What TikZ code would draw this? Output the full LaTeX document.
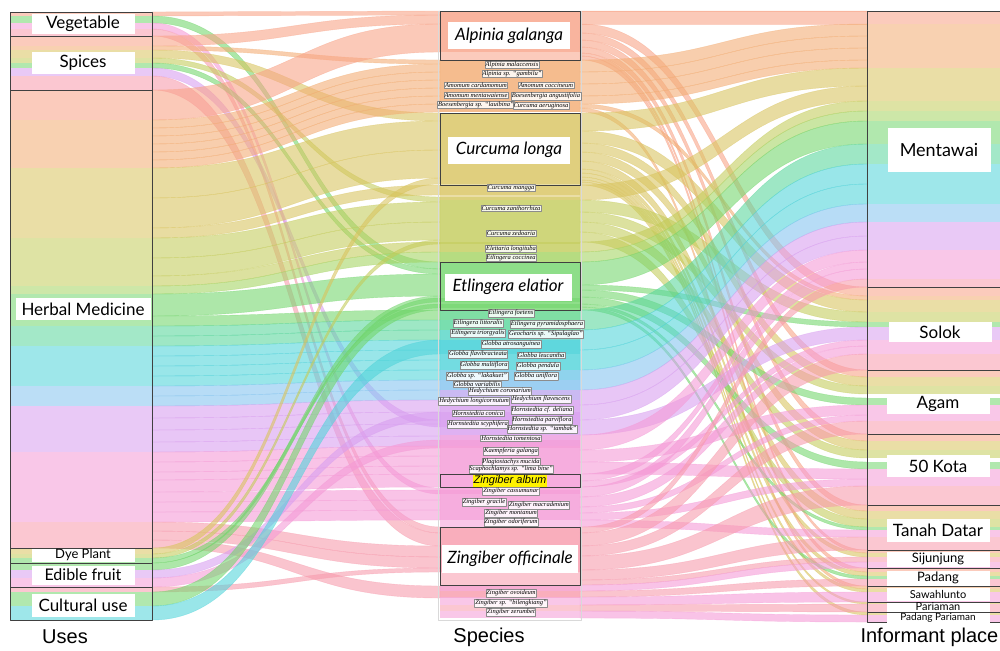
\documentclass[tikz,border=0pt]{standalone}
\usepackage{fontspec}
\newfontfamily\gillf{Lato}
\newfontfamily\arialf{Liberation Sans}
\newfontfamily\timesf{Liberation Serif}
\definecolor{cA}{HTML}{F9A286}
\definecolor{cB}{HTML}{F3AC72}
\definecolor{cC}{HTML}{D9C45E}
\definecolor{cD}{HTML}{C4CC5A}
\definecolor{cDD}{HTML}{A4D462}
\definecolor{cE}{HTML}{72D66C}
\definecolor{cEE}{HTML}{58D69C}
\definecolor{cF}{HTML}{50D4DA}
\definecolor{cFF}{HTML}{84C4F0}
\definecolor{cG}{HTML}{D89EF0}
\definecolor{cH}{HTML}{F599D6}
\definecolor{cI}{HTML}{F89AAC}
\begin{document}
\begin{tikzpicture}[x=1pt,y=-1pt,line join=round,
	ribbon/.style={fill opacity=.58,draw=white,draw opacity=.5,line width=.4pt},
	band/.style={fill opacity=.55},
	frame/.style={draw=black!75,line width=.7pt},
	uselbl/.style={fill=white,inner sep=0pt,minimum width=103pt,minimum height=20pt,font=\gillf\fontsize{17}{17}\selectfont},
	placelbl/.style={fill=white,inner sep=0pt,minimum width=103pt,minimum height=20pt,font=\gillf\fontsize{17}{17}\selectfont},
	spbig/.style={fill=white,inner sep=0pt,minimum width=122pt,minimum height=27pt,font=\gillf\itshape\fontsize{17}{17}\selectfont},
	sp/.style={draw=black!45,fill=white,fill opacity=.85,text opacity=1,inner sep=.7pt,line width=.3pt,font=\timesf\itshape\fontsize{6.5}{6.5}\selectfont},
	axlbl/.style={font=\arialf\fontsize{20}{20}\selectfont}]
	\clip (0,0) rectangle (1000,650);
	\fill[white] (0,0) rectangle (1000,650);
	% uses -> species
	\foreach \ya/\yb/\yc/\yd/\cl in {
		12/16/11/15/cA, 16/23/262/269/cE, 23/29/488/494/cH, 29/36/527/533/cI,
		36/46/15/24/cA, 46/50/60/64/cB, 50/58/113/121/cC, 58/63/197/202/cD,
		63/68/269/274/cE, 68/76/420/427/cG, 76/90/533/546/cI,
		90/120/24/52/cA, 120/128/64/72/cB, 128/136/72/80/cB, 136/144/80/88/cB,
		144/152/88/96/cB, 152/160/96/104/cB, 160/168/104/112/cB,
		168/198/121/150/cC, 198/228/150/178/cC, 228/238/185/195/cC,
		238/258/202/222/cD, 258/276/222/240/cD, 276/286/242/252/cD,
		286/294/252/262/cDD, 294/316/274/296/cE,
		316/326/310/320/cE, 326/336/320/330/cEE, 336/346/330/340/cEE,
		346/356/340/350/cF, 356/366/350/360/cF, 366/376/360/370/cF,
		376/386/370/380/cF, 386/396/380/390/cFF, 396/406/390/400/cFF,
		406/418/400/412/cG, 418/430/412/424/cG, 430/442/424/436/cG,
		442/452/436/446/cG, 452/462/446/456/cH, 462/472/456/466/cH,
		472/480/466/474/cH, 480/492/474/487/cH, 492/502/490/500/cH,
		502/512/500/510/cH, 512/522/510/520/cH, 522/531/546/557/cI,
		531/540/557/568/cI, 540/548/586/598/cI,
		548/554/178/184/cC, 554/558/240/244/cD, 558/563/304/308/cE,
		563/570/296/302/cE, 570/578/412/420/cG, 578/587/440/448/cH,
		587/592/568/572/cI, 592/606/298/310/cE, 606/620/340/354/cF}{
		\fill[ribbon,\cl] (152,\ya) .. controls (296,\ya) and (296,\yc) .. (440,\yc)
			-- (440,\yd) .. controls (296,\yd) and (296,\yb) .. (152,\yb) -- cycle;
		\fill[band,\cl] (10,\ya) rectangle (152,\yb);
		\fill[band,\cl] (440,\yc) rectangle (580,\yd);
	}
	% species -> informant places
	\foreach \ya/\yb/\yc/\yd/\cl in {
		11/24/11/24/cA, 24/33/287/296/cA, 33/40/370/377/cA, 40/47/434/441/cA,
		47/53/505/511/cA, 53/56/550/553/cA, 56/60/568/572/cA,
		60/72/24/36/cB, 72/84/36/48/cB, 84/96/48/60/cB, 96/104/60/68/cB,
		104/108/296/300/cB, 108/112/586/589/cB,
		113/131/68/86/cC, 131/143/300/312/cC, 143/152/377/386/cC,
		152/161/441/450/cC, 161/169/511/519/cC, 169/173/553/557/cC,
		173/177/572/576/cC, 177/180/589/592/cC, 180/182/602/604/cC, 182/185/612/615/cC,
		185/200/86/101/cC, 200/212/312/322/cD, 212/222/386/394/cD,
		222/232/450/458/cD, 232/242/519/527/cD, 242/252/101/111/cD, 252/262/111/121/cDD,
		262/285/121/144/cE, 285/290/322/327/cE, 290/297/398/405/cE,
		297/304/462/469/cE, 304/307/527/530/cE, 307/310/576/579/cE,
		310/330/144/164/cEE, 330/350/164/184/cF, 350/370/184/204/cF,
		370/390/204/222/cFF, 390/405/222/236/cG, 405/420/236/250/cG,
		420/435/327/340/cG, 435/450/250/262/cH, 450/462/405/415/cH, 462/474/469/479/cH,
		474/481/262/269/cH, 481/487/340/346/cH,
		487/497/269/279/cH, 497/507/346/354/cH, 507/513/415/421/cH,
		513/520/479/486/cH, 520/527/530/537/cH,
		527/533/279/287/cI, 533/546/354/370/cI, 546/556/421/434/cI,
		556/570/486/505/cI, 570/580/537/550/cI, 580/585/557/562/cI,
		585/591/562/568/cH, 591/597/579/586/cI, 597/605/592/602/cH,
		605/611/604/612/cI, 611/618/615/622/cH}{
		\fill[ribbon,\cl] (580,\ya) .. controls (724,\ya) and (724,\yc) .. (867,\yc)
			-- (867,\yd) .. controls (724,\yd) and (724,\yb) .. (580,\yb) -- cycle;
		\fill[band,\cl] (440,\ya) rectangle (580,\yb);
		\fill[band,\cl] (867,\yc) rectangle (1000,\yd);
	}
	% frames
	\draw[frame] (10,12) rectangle (152,620);
	\foreach \y in {36,90,548,563,587}
		\draw[frame] (10,\y) -- (152,\y);
	\draw[black!15] (438,11) rectangle (581,620);
	\foreach \ya/\yb in {11/60,113/185,262/310,474/487,527/585}
		\draw[frame] (440,\ya) rectangle (580,\yb);
	\draw[frame] (867,11) -- (867,622) -- (1000,622);
	\foreach \y in {11,287,370,434,505,550,568,586,602,612}
		\draw[frame] (867,\y) -- (1000,\y);
	% uses
	\node[uselbl] (veg) at (83,24) {Vegetable};
	\node[uselbl,minimum height=22pt] (spi) at (83,63) {Spices};
	\node[uselbl,minimum width=135pt,minimum height=22pt] (herb) at (83,309) {Herbal Medicine};
	\node[uselbl,minimum height=13pt,font=\gillf\fontsize{13}{13}\selectfont] (dye) at (83,555) {Dye Plant};
	\node[uselbl,minimum height=19pt,font=\gillf\fontsize{16}{16}\selectfont] (edi) at (83,575) {Edible fruit};
	\node[uselbl,minimum height=23pt] (cul) at (83,605) {Cultural use};
	% species
	\node[spbig] (alpg) at (509,36) {Alpinia galanga};
	\node[spbig] (curl) at (509,150) {Curcuma longa};
	\node[spbig,minimum width=127pt] (etle) at (508,287) {Etlingera elatior};
	\node[spbig,minimum width=136pt,minimum height=28pt] (zino) at (510,559) {Zingiber officinale};
	\node[fill=yellow,inner sep=.5pt,font=\arialf\itshape\fontsize{11}{11}\selectfont] (zinalb) at (510,481) {Zingiber album};
	\node[sp] (alpm) at (512,65) {Alpinia malaccensis};
	\node[sp] (alps) at (512,74) {Alpinia sp. “gambilu”};
	\node[sp] (amoc) at (476,85) {Amomum cardamomum};
	\node[sp] (amoi) at (546,85) {Amomum coccineum};
	\node[sp] (amom) at (476,95) {Amomum mentawaiense};
	\node[sp] (boea) at (546,96) {Boesenbergia angustifolia};
	\node[sp] (boes) at (476,105) {Boesenbergia sp. “lauibina”};
	\node[sp] (cura) at (541,106) {Curcuma aeruginosa};
	\node[sp] (curm) at (511,188) {Curcuma mangga};
	\node[sp] (curx) at (511,208) {Curcuma zanthorrhiza};
	\node[sp] (curz) at (511,233) {Curcuma zedoaria};
	\node[sp] (elel) at (511,249) {Elettaria longituba};
	\node[sp] (etlc) at (511,258) {Etlingera coccinea};
	\node[sp] (etlf) at (511,313) {Etlingera foetens};
	\node[sp] (etll) at (478,323) {Etlingera littoralis};
	\node[sp] (etlp) at (547,324) {Etlingera pyramidosphaera};
	\node[sp] (etlt) at (478,333) {Etlingera triorgyalis};
	\node[sp] (geos) at (546,334) {Geocharis sp. “Sipulaglao”};
	\node[sp] (glba) at (511,344) {Globba atrosanguinea};
	\node[sp] (glbf) at (478,354) {Globba flavibracteata};
	\node[sp] (glbl) at (541,355) {Globba leucantha};
	\node[sp] (glbm) at (484,365) {Globba multiflora};
	\node[sp] (glbp) at (538,366) {Globba pendula};
	\node[sp] (glbs) at (477,376) {Globba sp. “lakakuet”};
	\node[sp] (glbu) at (536,376) {Globba uniflora};
	\node[sp] (glbv) at (477,384) {Globba variabilis};
	\node[sp] (hedc) at (500,391) {Hedychium coronarium};
	\node[sp] (hedl) at (474,401) {Hedychium longicornutum};
	\node[sp] (hedf) at (541,399) {Hedychium flavescens};
	\node[sp] (horc) at (478,413) {Hornstedtia conica};
	\node[sp] (hord) at (542,410) {Hornstedtia cf. deliana};
	\node[sp] (hors) at (478,424) {Hornstedtia scyphifera};
	\node[sp] (horp) at (542,420) {Hornstedtia parviflora};
	\node[sp] (hort) at (542,429) {Hornstedtia sp. “tambak”};
	\node[sp] (horm) at (511,438) {Hornstedtia tomentosa};
	\node[sp] (kaeg) at (511,451) {Kaempferia galanga};
	\node[sp] (plam) at (511,462) {Plagiostachys mucida};
	\node[sp] (scas) at (511,469) {Scaphochlamys sp. “lima bine”};
	\node[sp] (zinc) at (511,491) {Zingiber cassumunar};
	\node[sp] (zing) at (484,502) {Zingiber gracile};
	\node[sp] (zinm) at (539,505) {Zingiber macradenium};
	\node[sp] (zint) at (511,513) {Zingiber montanum};
	\node[sp] (zind) at (511,522) {Zingiber odoriferum};
	\node[sp] (zinv) at (511,593) {Zingiber ovoideum};
	\node[sp] (zins) at (511,603) {Zingiber sp. “bilengkiang”};
	\node[sp] (zinz) at (511,612) {Zingiber zerumbet};
	% informant places
	\node[placelbl,minimum height=44pt,font=\gillf\fontsize{18}{18}\selectfont] (ment) at (939,150) {Mentawai};
	\node[placelbl] (sol) at (940,332) {Solok};
	\node[placelbl] (agam) at (938,404) {Agam};
	\node[placelbl,minimum height=22pt] (kota) at (938,466) {50 Kota};
	\node[placelbl,minimum height=23pt] (tdat) at (938,530) {Tanah Datar};
	\node[placelbl,minimum height=15pt,font=\gillf\fontsize{13}{13}\selectfont] (sij) at (938,559) {Sijunjung};
	\node[placelbl,minimum height=15pt,font=\gillf\fontsize{13}{13}\selectfont] (pdg) at (938,578) {Padang};
	\node[placelbl,minimum height=13pt,font=\gillf\fontsize{11}{11}\selectfont] (saw) at (938,594) {Sawahlunto};
	\node[placelbl,minimum height=9pt,font=\gillf\fontsize{11}{11}\selectfont] (par) at (938,607) {Pariaman};
	\node[placelbl,minimum height=9pt,font=\gillf\fontsize{10}{10}\selectfont] (ppar) at (938,618) {Padang Pariaman};
	% axis titles
	\node[axlbl] (uses) at (65,637) {Uses};
	\node[axlbl] (spec) at (489,637) {Species};
	\node[axlbl,anchor=west] (inf) at (857,637) {Informant place};
\end{tikzpicture}
\end{document}
